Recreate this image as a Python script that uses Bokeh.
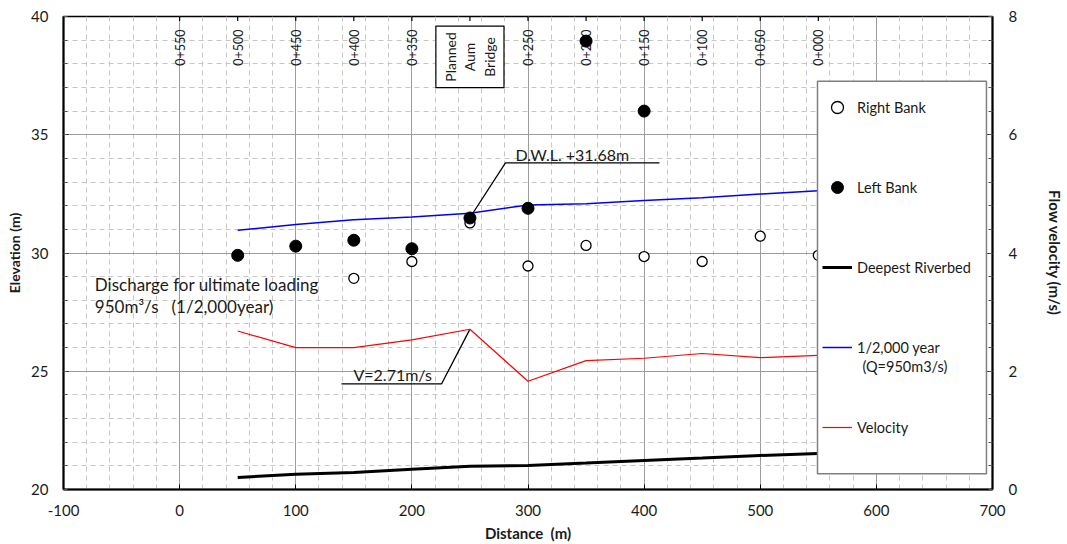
import numpy as np
from bokeh.plotting import figure
from bokeh.models import (Range1d, LinearAxis, FixedTicker, Legend, LegendItem,
                          Label, BoxAnnotation)
from bokeh.core.properties import value
from bokeh.embed import file_html
from bokeh.resources import INLINE

# ---------------- data ----------------
distance = [50, 100, 150, 200, 250, 300, 350, 400, 450, 500, 550]
water_level = [30.96, 31.20, 31.41, 31.52, 31.68, 32.03, 32.08, 32.22, 32.34, 32.49, 32.63]
riverbed = [20.51, 20.65, 20.72, 20.86, 20.98, 21.02, 21.12, 21.23, 21.33, 21.44, 21.52]
velocity = [2.68, 2.40, 2.40, 2.53, 2.71, 1.83, 2.18, 2.22, 2.30, 2.23, 2.27]

right_bank_x = [150, 200, 250, 300, 350, 400, 450, 500, 550]
right_bank_y = [28.93, 29.64, 31.27, 29.45, 30.32, 29.85, 29.64, 30.71, 29.90]
left_bank_x = [50, 100, 150, 200, 250, 300, 350, 400]
left_bank_y = [29.90, 30.29, 30.54, 30.18, 31.48, 31.89, 38.96, 36.00]

station_ticks = [0, 50, 100, 150, 200, 250, 300, 350, 400, 450, 500, 550]
station_x = [0, 50, 100, 150, 200, 300, 350, 400, 450, 500, 550]
station_labels = ["0+550", "0+500", "0+450", "0+400", "0+350", "0+250",
                  "0+200", "0+150", "0+100", "0+050", "0+000"]
bridge_x = 250
bridge_label = "Planned\nAum\nBridge"

x_major = [-100, 0, 100, 200, 300, 400, 500, 600, 700]
y_major = [20, 25, 30, 35, 40]
v_major = [0, 2, 4, 6, 8]

FONT = "Lato"
TXT = "#1a1a1a"
NBSP = "\u00a0"

# ---------------- figure ----------------
p = figure(width=1067, height=544, x_range=Range1d(-100, 700), y_range=Range1d(20, 40),
           output_backend="svg", toolbar_location=None,
           min_border_left=63, min_border_right=75, min_border_top=16, min_border_bottom=53,
           outline_line_color="black", outline_line_width=1.5)
p.extra_y_ranges = {"vel": Range1d(0, 8)}

xt = FixedTicker(ticks=x_major, minor_ticks=list(range(-100, 701, 20)))
yt = FixedTicker(ticks=y_major, minor_ticks=list(range(20, 41, 1)))
p.xaxis.ticker = xt
p.yaxis.ticker = yt
p.xgrid.ticker = xt
p.ygrid.ticker = yt
for g in (p.xgrid, p.ygrid):
    g.grid_line_color = "#9c9c9c"
    g.grid_line_width = 1
    g.minor_grid_line_color = "#c6c6c6"
    g.minor_grid_line_dash = "5 4"
    g.minor_grid_line_width = 1

def style_axis(ax):
    ax.axis_line_color = "black"
    ax.axis_line_width = 2
    ax.major_tick_in = 5
    ax.major_tick_out = 0
    ax.major_tick_line_color = "black"
    ax.minor_tick_in = 4
    ax.minor_tick_out = 0
    ax.minor_tick_line_color = "#555555"
    ax.major_label_text_font = FONT
    ax.major_label_text_font_size = "15px"
    ax.major_label_text_color = TXT
    ax.axis_label_text_font = FONT
    ax.axis_label_text_font_size = "15px"
    ax.axis_label_text_font_style = "bold"
    ax.axis_label_text_color = TXT

xa = p.xaxis[0]
style_axis(xa)
xa.minor_tick_line_color = None
xa.major_label_standoff = 15
xa.axis_label = "Distance" + NBSP + " (m)"
xa.axis_label_standoff = 5
xa.major_label_overrides = {-100: "-100"}

ya = p.yaxis[0]
style_axis(ya)
ya.major_label_standoff = 15
ya.axis_label = "Elevation (m)"
ya.axis_label_text_font_size = "14px"
ya.axis_label_standoff = 5

ra = LinearAxis(y_range_name="vel",
                ticker=FixedTicker(ticks=v_major, minor_ticks=[i * 0.4 for i in range(21)]))
style_axis(ra)
ra.major_label_standoff = 16
ra.axis_label = "Flow velocity (m/s)"
ra.axis_label_standoff = 26
p.add_layout(ra, "right")

# station tick marks crossing the top border
p.scatter(x=station_ticks, y=40, marker="dash", angle=np.pi / 2, size=9,
          line_color="black", line_width=1.2)

# ---------------- station labels ----------------
p.text(x=station_x, y=37.92, text=station_labels, angle=np.pi / 2,
       text_align="left", text_baseline="middle", text_font=value(FONT),
       text_font_size="12.5px", text_color=TXT)

p.add_layout(Label(x=bridge_x, y=38.29, text=bridge_label, angle=np.pi / 2,
                   text_align="center", text_baseline="middle", text_font=FONT,
                   text_font_size="14px", text_color=TXT, text_line_height=1.15,
                   border_line_color="black", border_line_width=1.2,
                   background_fill_color="white", padding=6))

# ---------------- series ----------------
rv = p.line(distance, riverbed, line_color="black", line_width=3)
wl = p.line(distance, water_level, line_color="#0000ff", line_width=1.5)
vl = p.line(distance, velocity, line_color="#ff0000", line_width=1.2, y_range_name="vel")
rb = p.scatter(right_bank_x, right_bank_y, marker="circle", size=10,
               fill_color="white", line_color="black", line_width=1.3)
lb = p.scatter(left_bank_x, left_bank_y, marker="circle", size=12,
               fill_color="black", line_color="black")

# ---------------- annotations ----------------
p.line([252.2, 280.6, 413.2], [31.66, 33.81, 33.81], line_color="black", line_width=1.3)
p.add_layout(Label(x=289.2, y=34.15, text="D.W.L. +31.68m", text_baseline="middle",
                   text_font=FONT, text_font_size="16px", text_color=TXT))

p.line([139.4, 225.5, 249.6], [1.785, 1.785, 2.695], line_color="black", line_width=1.3,
       y_range_name="vel")
p.add_layout(Label(x=149.7, y=1.94, y_range_name="vel", text="V=2.71m/s",
                   text_baseline="middle", text_font=FONT, text_font_size="16px",
                   text_color=TXT))

p.add_layout(Label(x=-73.0, y=28.67, text="Discharge for ultimate loading",
                   text_baseline="middle", text_font=FONT, text_font_size="17px",
                   text_color=TXT))
p.add_layout(Label(x=-73.0, y=27.75,
                   text="950m³/s" + NBSP + NBSP + " (1/2,000year)",
                   text_baseline="middle", text_font=FONT, text_font_size="17px",
                   text_color=TXT))

# ---------------- legend ----------------
p.add_layout(BoxAnnotation(left=549.3, right=694.8, top=37.26, bottom=20.67,
                           fill_color="white", fill_alpha=1.0,
                           line_color="#7f7f7f", line_width=1.5, line_alpha=1.0))

legend = Legend(items=[
    LegendItem(label="Right Bank", renderers=[rb]),
    LegendItem(label="Left Bank", renderers=[lb]),
    LegendItem(label="Deepest Riverbed", renderers=[rv]),
    LegendItem(label="1/2,000 year", renderers=[wl]),
    LegendItem(label="Velocity", renderers=[vl]),
], location=(759, 43), orientation="vertical", padding=10, margin=0, spacing=42,
    glyph_width=30, glyph_height=38, label_height=38, label_standoff=5,
    label_text_font=FONT, label_text_font_size="14.5px", label_text_color=TXT,
    background_fill_alpha=0, border_line_color=None)
p.add_layout(legend, "center")

p.add_layout(Label(x=588, y=25.18, text="(Q=950m3/s)", text_baseline="middle",
                   text_font=FONT, text_font_size="14.5px", text_color=TXT))

open("out.html", "w").write(file_html(p, INLINE))
